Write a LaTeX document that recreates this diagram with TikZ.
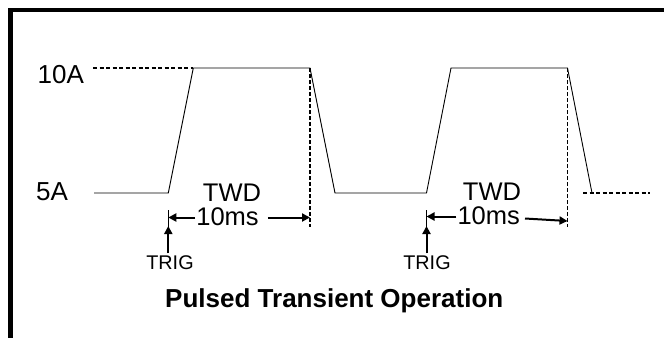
\documentclass[tikz,border=0pt]{standalone}
\usepackage{fontspec}
\setmainfont{Liberation Sans}
\usetikzlibrary{arrows.meta}
\begin{document}
\begin{tikzpicture}[x=1pt,y=-1pt,
  lbl/.style={inner sep=0pt,font=\fontsize{26}{26}\selectfont},
  dim/.style={inner sep=0pt,font=\fontsize{25.5}{25.5}\selectfont},
  trg/.style={inner sep=0pt,font=\fontsize{19.8}{19.8}\selectfont},
  ttl/.style={inner sep=0pt,font=\fontsize{26}{26}\selectfont\bfseries},
  wave/.style={line width=0.9pt},
  level/.style={line width=1.3pt,dash pattern=on 4pt off 2.5pt},
  mark line/.style={line width=1.6pt,dash pattern=on 4pt off 2pt},
  tick/.style={line width=1pt},
  dimarrow/.style={line width=2pt,-{Triangle[length=8pt,width=8pt]}},
  frame/.style={line width=4.5pt}]
\useasboundingbox (0,0) rectangle (664,338);
% frame (top and left only)
\coordinate (fTR) at (664,10);
\coordinate (fTL) at (10.3,10);
\coordinate (fBL) at (10.3,338);
\draw[frame] (fTR) -- (fTL) -- (fBL);
% waveform
\coordinate (w0) at (94,193);
\coordinate (r1a) at (168.3,193);
\coordinate (r1b) at (193.3,68);
\coordinate (f1a) at (310,68);
\coordinate (f1b) at (335,193);
\coordinate (r2a) at (426.5,193);
\coordinate (r2b) at (451,68);
\coordinate (f2a) at (567.5,68);
\coordinate (f2b) at (592,193);
\draw[wave] (w0) -- (r1a) -- (r1b) -- (f1a) -- (f1b) -- (r2a) -- (r2b) -- (f2a) -- (f2b);
% level dashed lines
\coordinate (hiL) at (93,68);
\coordinate (loA) at (583,193);
\coordinate (loB) at (650,193);
\draw[level] (hiL) -- (r1b);
\draw[level] (loA) -- (loB);
% level labels
\node[lbl,anchor=base west] (l10) at (37.5,83) {10A};
\node[lbl,anchor=base west] (l5) at (36,200.5) {5A};
% first TWD
\coordinate (m1b) at (310,227);
\draw[mark line] (f1a) -- (m1b);
\coordinate (t1a) at (168.3,210);
\coordinate (t1b) at (168.3,227);
\draw[tick] (t1a) -- (t1b);
\node[dim,anchor=base] (twd1) at (232,201) {TWD};
\node[dim,anchor=base] (ms1) at (227.5,225) {10ms};
\coordinate (a1L) at (168.3,217.5);
\coordinate (a1R) at (310,217.5);
\draw[dimarrow] (ms1.west |- a1L) ++(-1,0) -- (a1L);
\draw[dimarrow] (ms1.east |- a1R) ++(9,0) -- (a1R);
\node[trg,anchor=base] (trig1) at (170,269.5) {TRIG};
\coordinate (tr1) at (168.3,226);
\draw[dimarrow] (trig1.north -| tr1) ++(0,-2) -- (tr1);
% second TWD
\coordinate (m2b) at (567.5,227);
\draw[mark line] (f2a) -- (m2b);
\coordinate (t2a) at (426.5,210);
\coordinate (t2b) at (426.5,227);
\draw[tick] (t2a) -- (t2b);
\node[dim,anchor=base] (twd2) at (492,200) {TWD};
\node[dim,anchor=base] (ms2) at (488.7,224) {10ms};
\coordinate (a2L) at (426.5,216.5);
\coordinate (a2Rs) at (525,218.5);
\coordinate (a2R) at (567.5,221);
\draw[dimarrow] (ms2.west |- a2L) ++(-1,0) -- (a2L);
\draw[dimarrow] (a2Rs) -- (a2R);
\node[trg,anchor=base] (trig2) at (427,269.5) {TRIG};
\coordinate (tr2) at (426.5,226);
\draw[dimarrow] (trig2.north -| tr2) ++(0,-2) -- (tr2);
% title
\node[ttl,anchor=base west] (title) at (165,307.5) {Pulsed Transient Operation};
\end{tikzpicture}
\end{document}
